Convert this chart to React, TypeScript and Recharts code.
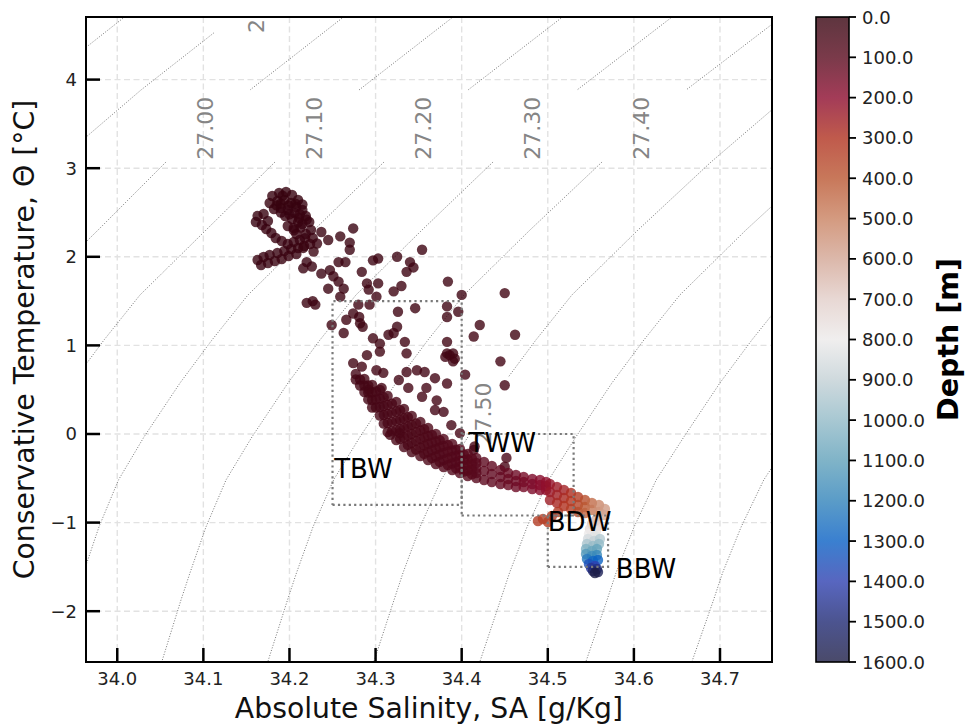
import React from "react";
import { ScatterChart, Scatter, XAxis, YAxis, CartesianGrid } from "recharts";

type Pt = [number, number, number]; // [SA, CT, depth]
type SP = [number, number]; // [SA, CT]

// axes
const salinityTicks = [34.0, 34.1, 34.2, 34.3, 34.4, 34.5, 34.6, 34.7];
const tempTicks = [-2, -1, 0, 1, 2, 3, 4];
const salinityRange: [number, number] = [33.9637, 34.7604];
const tempRange: [number, number] = [-2.5734, 4.7065];

// colorbar (balance, reversed)
const depthTicks = [0, 100, 200, 300, 400, 500, 600, 700, 800, 900, 1000, 1100, 1200, 1300, 1400, 1500, 1600];
const depthColors = [
  "#36030f", "#59091d", "#8c0b2e", "#b0311f", "#ba5631", "#c98160", "#d3a695", "#e2cec9", "#eceaea",
  "#c3d0d5", "#92bac7", "#60a1ba", "#3183ba", "#0960c4", "#2e40b0", "#1f2974", "#1d1d45",
];

// CTD samples
const surfaceCluster: Pt[] = [
  [34.180, 2.686, 2], [34.188, 2.720, 1], [34.196, 2.731, 1], [34.203, 2.698, 2], [34.210, 2.641, 3],
  [34.177, 2.607, 2], [34.186, 2.630, 2], [34.194, 2.641, 2], [34.202, 2.607, 3], [34.208, 2.562, 3],
  [34.182, 2.540, 3], [34.190, 2.551, 3], [34.198, 2.528, 4], [34.206, 2.494, 4], [34.215, 2.528, 4],
  [34.195, 2.460, 4], [34.203, 2.427, 5], [34.211, 2.438, 5], [34.219, 2.460, 5], [34.215, 2.370, 6],
  [34.223, 2.393, 6], [34.198, 2.348, 5], [34.205, 2.325, 6],
  [34.190, 2.600, 3], [34.199, 2.580, 3], [34.207, 2.600, 3], [34.185, 2.580, 3], [34.212, 2.480, 5],
  [34.200, 2.480, 4], [34.190, 2.500, 4], [34.192, 2.690, 2], [34.215, 2.590, 4], [34.220, 2.420, 6],
  [34.210, 2.390, 5], [34.205, 2.300, 6], [34.213, 2.330, 6], [34.218, 2.210, 7],
  [34.163, 2.460, 3], [34.170, 2.483, 3], [34.161, 2.393, 4], [34.168, 2.359, 4], [34.173, 2.314, 5],
  [34.179, 2.269, 5], [34.175, 2.404, 4],
  [34.184, 2.212, 6], [34.191, 2.178, 6], [34.198, 2.144, 7], [34.205, 2.167, 7], [34.212, 2.190, 7],
  [34.219, 2.257, 7], [34.225, 2.302, 7], [34.208, 2.257, 6], [34.217, 2.122, 8], [34.224, 2.144, 8],
  [34.227, 2.212, 8],
  [34.163, 1.964, 6], [34.170, 1.998, 6], [34.177, 2.020, 6], [34.186, 2.043, 7], [34.194, 2.066, 7],
  [34.202, 2.088, 7], [34.210, 2.099, 8], [34.167, 1.907, 7], [34.175, 1.930, 7], [34.183, 1.953, 7],
  [34.191, 1.975, 8], [34.199, 2.009, 8], [34.208, 2.032, 8],
];

const upperScatter: Pt[] = [
  [34.274, 2.32, 12], [34.259, 2.23, 10], [34.245, 2.19, 10], [34.270, 2.16, 14], [34.270, 2.08, 15],
  [34.232, 2.15, 8], [34.237, 2.28, 8], [34.228, 2.06, 10], [34.216, 2.10, 9],
  [34.354, 2.08, 20], [34.325, 2.00, 18], [34.303, 1.98, 16], [34.297, 1.96, 16], [34.340, 1.94, 20],
  [34.344, 1.88, 21], [34.336, 1.83, 21], [34.284, 1.83, 18], [34.265, 1.94, 14], [34.257, 1.94, 14],
  [34.247, 1.85, 15], [34.237, 1.81, 15], [34.251, 1.78, 16], [34.257, 1.72, 17], [34.263, 1.64, 18],
  [34.245, 1.64, 18], [34.259, 1.55, 19], [34.226, 1.89, 12], [34.216, 1.87, 12], [34.220, 1.94, 11],
  [34.292, 1.63, 20], [34.303, 1.70, 20], [34.290, 1.70, 19], [34.321, 1.61, 22], [34.330, 1.67, 22],
  [34.301, 1.55, 22], [34.384, 1.72, 25], [34.450, 1.59, 30], [34.400, 1.57, 27],
  [34.220, 1.48, 18], [34.230, 1.46, 18], [34.227, 1.50, 18], [34.280, 1.46, 22], [34.293, 1.46, 22],
  [34.346, 1.42, 25], [34.326, 1.38, 24], [34.383, 1.44, 27], [34.396, 1.38, 28], [34.274, 1.36, 23],
  [34.266, 1.29, 24], [34.282, 1.25, 25], [34.249, 1.23, 24], [34.263, 1.14, 26], [34.281, 1.32, 24],
  [34.285, 1.21, 25],
  [34.325, 1.21, 27], [34.321, 1.14, 28], [34.315, 1.12, 28], [34.383, 1.32, 29], [34.421, 1.23, 30],
  [34.462, 1.12, 32], [34.414, 1.10, 31], [34.383, 1.04, 31], [34.297, 1.08, 28], [34.305, 1.02, 29],
  [34.334, 1.04, 30],
  [34.383, 0.91, 32], [34.390, 0.91, 32], [34.390, 0.82, 33], [34.336, 0.91, 31], [34.305, 0.93, 30],
  [34.290, 0.89, 30], [34.274, 0.80, 31], [34.284, 0.76, 32], [34.445, 0.82, 35], [34.450, 0.55, 38],
  [34.404, 0.67, 35], [34.383, 0.57, 36], [34.369, 0.63, 35], [34.357, 0.70, 34], [34.348, 0.72, 34],
  [34.336, 0.70, 34], [34.327, 0.61, 35], [34.309, 0.69, 34], [34.301, 0.72, 34], [34.338, 0.52, 37],
  [34.359, 0.52, 37], [34.371, 0.38, 39], [34.354, 0.42, 38], [34.292, 0.50, 37], [34.307, 0.52, 37],
  [34.369, 0.27, 40], [34.379, 0.25, 41], [34.388, 0.10, 43], [34.398, 0.01, 45], [34.415, -0.14, 48],
  [34.452, -0.27, 55], [34.450, -0.37, 58], [34.317, -0.01, 45], [34.328, 0.01, 45], [34.386, 0.89, 33],
  [34.392, 0.85, 33], [34.381, 0.87, 33], [34.414, -0.18, 50],
];

const thermoclineBand: Pt[] = [
  [34.277, 0.677, 40], [34.277, 0.615, 40],
  [34.282, 0.615, 41], [34.282, 0.547, 41],
  [34.287, 0.621, 42], [34.287, 0.547, 42], [34.287, 0.474, 42],
  [34.2915, 0.547, 43], [34.2915, 0.468, 43], [34.2915, 0.390, 43],
  [34.296, 0.553, 45], [34.296, 0.468, 45], [34.296, 0.384, 45], [34.296, 0.299, 45],
  [34.3005, 0.480, 46], [34.3005, 0.390, 46], [34.3005, 0.299, 46],
  [34.305, 0.497, 48], [34.305, 0.401, 48], [34.305, 0.305, 48], [34.305, 0.209, 48],
  [34.3095, 0.414, 49], [34.3095, 0.315, 49], [34.3095, 0.216, 49], [34.3095, 0.117, 49],
  [34.314, 0.429, 50], [34.314, 0.327, 50], [34.314, 0.226, 50], [34.314, 0.124, 50], [34.314, 0.023, 50],
  [34.319, 0.343, 51], [34.319, 0.239, 51], [34.319, 0.134, 51], [34.319, 0.030, 51],
  [34.324, 0.361, 52], [34.324, 0.254, 52], [34.324, 0.147, 52], [34.324, 0.040, 52], [34.324, -0.068, 52],
  [34.3285, 0.268, 53], [34.3285, 0.161, 53], [34.3285, 0.054, 53], [34.3285, -0.054, 53],
  [34.333, 0.282, 55], [34.333, 0.175, 55], [34.333, 0.068, 55], [34.333, -0.040, 55], [34.333, -0.147, 55],
  [34.3375, 0.190, 56], [34.3375, 0.086, 56], [34.3375, -0.018, 56], [34.3375, -0.123, 56],
  [34.342, 0.203, 58], [34.342, 0.102, 58], [34.342, 0.000, 58], [34.342, -0.102, 58], [34.342, -0.203, 58],
  [34.347, 0.120, 60], [34.347, 0.022, 60], [34.347, -0.077, 60], [34.347, -0.176, 60],
  [34.352, 0.135, 62], [34.352, 0.040, 62], [34.352, -0.056, 62], [34.352, -0.152, 62], [34.352, -0.248, 62],
  [34.3565, 0.055, 64], [34.3565, -0.038, 64], [34.3565, -0.131, 64], [34.3565, -0.224, 64],
  [34.361, 0.068, 66], [34.361, -0.023, 66], [34.361, -0.113, 66], [34.361, -0.203, 66], [34.361, -0.293, 66],
  [34.3655, -0.010, 68], [34.3655, -0.098, 68], [34.3655, -0.185, 68], [34.3655, -0.272, 68],
  [34.370, 0.000, 70], [34.370, -0.085, 70], [34.370, -0.169, 70], [34.370, -0.254, 70], [34.370, -0.339, 70],
  [34.3745, -0.069, 72], [34.3745, -0.151, 72], [34.3745, -0.233, 72], [34.3745, -0.315, 72],
  [34.379, -0.056, 75], [34.379, -0.135, 75], [34.379, -0.214, 75], [34.379, -0.293, 75], [34.379, -0.372, 75],
  [34.384, -0.123, 78], [34.384, -0.199, 78], [34.384, -0.275, 78], [34.384, -0.351, 78],
  [34.389, -0.113, 80], [34.389, -0.186, 80], [34.389, -0.260, 80], [34.389, -0.333, 80], [34.389, -0.406, 80],
  [34.3935, -0.176, 83], [34.3935, -0.247, 83], [34.3935, -0.318, 83], [34.3935, -0.388, 83],
  [34.398, -0.169, 86], [34.398, -0.237, 86], [34.398, -0.305, 86], [34.398, -0.372, 86], [34.398, -0.440, 86],
  [34.4025, -0.230, 89], [34.4025, -0.295, 89], [34.4025, -0.360, 89], [34.4025, -0.425, 89],
  [34.407, -0.226, 92], [34.407, -0.288, 92], [34.407, -0.350, 92], [34.407, -0.412, 92], [34.407, -0.474, 92],
  [34.412, -0.278, 95], [34.412, -0.337, 95], [34.412, -0.396, 95], [34.412, -0.456, 95],
  [34.417, -0.271, 98], [34.417, -0.327, 98], [34.417, -0.384, 98], [34.417, -0.440, 98], [34.417, -0.497, 98],
  [34.426, -0.316, 105], [34.426, -0.418, 105], [34.426, -0.519, 105],
  [34.435, -0.361, 112], [34.435, -0.451, 112], [34.435, -0.542, 112],
  [34.445, -0.406, 120], [34.445, -0.485, 120], [34.445, -0.564, 120],
  [34.454, -0.440, 130], [34.454, -0.508, 130], [34.454, -0.576, 130],
  [34.463, -0.463, 140], [34.463, -0.530, 140], [34.463, -0.598, 140],
  [34.472, -0.485, 155], [34.472, -0.542, 155], [34.472, -0.598, 155],
  [34.482, -0.508, 170], [34.482, -0.564, 170], [34.482, -0.621, 170],
  [34.491, -0.519, 190], [34.491, -0.576, 190], [34.491, -0.632, 190],
  [34.498, -0.542, 210], [34.498, -0.587, 210], [34.498, -0.632, 210],
];

const boundaryLayer: Pt[] = [
  [34.5025, -0.564, 220], [34.5025, -0.655, 235], [34.5025, -0.745, 250],
  [34.5107, -0.598, 240], [34.5107, -0.688, 255], [34.5107, -0.779, 275],
  [34.5188, -0.632, 260], [34.5188, -0.722, 280], [34.5188, -0.813, 300],
  [34.5270, -0.666, 290], [34.5270, -0.756, 310], [34.5270, -0.847, 330],
  [34.5351, -0.711, 330], [34.5351, -0.801, 350], [34.5351, -0.880, 370],
  [34.5432, -0.745, 380], [34.5432, -0.824, 400], [34.5432, -0.892, 430],
  [34.5513, -0.779, 450], [34.5513, -0.858, 480],
  [34.5595, -0.801, 520], [34.5595, -0.880, 550],
  [34.5664, -0.847, 570], [34.5653, -0.914, 600],
  [34.4886, -0.982, 330], [34.4944, -0.959, 335], [34.5002, -0.993, 340], [34.5048, -0.926, 330],
  [34.5118, -0.880, 320],
];

const deepColumn: Pt[] = [
  [34.5560, -0.971, 640], [34.5513, -1.016, 680], [34.5583, -1.038, 700], [34.5490, -1.072, 740],
  [34.5560, -1.095, 770], [34.5478, -1.129, 800], [34.5548, -1.151, 830], [34.5467, -1.185, 860],
  [34.5537, -1.208, 900], [34.5606, -1.185, 930], [34.5455, -1.242, 950], [34.5525, -1.264, 990],
  [34.5595, -1.242, 1000], [34.5444, -1.298, 1040], [34.5513, -1.321, 1080], [34.5571, -1.298, 1090],
  [34.5444, -1.354, 1130], [34.5513, -1.377, 1170], [34.5571, -1.366, 1180], [34.5455, -1.411, 1230],
  [34.5525, -1.433, 1280], [34.5583, -1.422, 1290], [34.5478, -1.467, 1350], [34.5548, -1.490, 1400],
  [34.5502, -1.512, 1450], [34.5571, -1.524, 1480], [34.5525, -1.546, 1520], [34.5583, -1.558, 1560],
  [34.5548, -1.569, 1600],
];

// sigma0 isopycnals (label gaps split some lines in two)
const sig2680: SP[] = [[34.0141, 4.75], [33.901, 3.883]];
const sig2690: SP[] = [[34.112, 4.526], [34.0276, 3.883], [33.93, 3.07]];
const sig2700a: SP[] = [[34.2685, 4.75], [34.1542, 3.883]];
const sig2700b: SP[] = [[34.0566, 3.07], [33.9777, 2.302], [33.901, 1.569]];
const sig2710a: SP[] = [[34.3957, 4.75], [34.2808, 3.883]];
const sig2710b: SP[] = [[34.1832, 3.07], [34.1031, 2.302], [34.0264, 1.569], [33.9846, 1.061], [33.9475, 0.576]];
const sig2720a: SP[] = [[34.5229, 4.75], [34.4074, 3.883]];
const sig2720b: SP[] = [
  [34.3098, 3.07], [34.2285, 2.302], [34.1518, 1.569], [34.11, 1.061], [34.0729, 0.576],
  [34.031, -0.034], [34.0014, -0.519], [33.9787, -1.05], [33.9607, -1.569],
];
const sig2730a: SP[] = [[34.6501, 4.75], [34.534, 3.883]];
const sig2730b: SP[] = [
  [34.4364, 3.07], [34.3539, 2.302], [34.2772, 1.569], [34.2354, 1.061], [34.1983, 0.576],
  [34.1564, -0.034], [34.1263, -0.519], [34.103, -1.05], [34.0844, -1.569], [34.074, -1.874], [34.0508, -2.6],
];
const sig2740a: SP[] = [[34.7773, 4.75], [34.6606, 3.883]];
const sig2740b: SP[] = [
  [34.563, 3.07], [34.4793, 2.302], [34.4026, 1.569], [34.3608, 1.061], [34.3237, 0.576],
  [34.2818, -0.034], [34.2512, -0.519], [34.2273, -1.05], [34.2081, -1.569], [34.1977, -1.874], [34.1739, -2.6],
];
const sig2750a: SP[] = [[34.7872, 3.883], [34.6896, 3.07], [34.6047, 2.302], [34.528, 1.569], [34.4862, 1.061], [34.4542, 0.643]];
const sig2750b: SP[] = [[34.4072, -0.034], [34.3761, -0.519], [34.3516, -1.05], [34.3318, -1.569], [34.3214, -1.874], [34.297, -2.6]];
const sig2760: SP[] = [
  [34.8162, 3.07], [34.7301, 2.302], [34.6534, 1.569], [34.6116, 1.061], [34.5745, 0.576],
  [34.5326, -0.034], [34.501, -0.519], [34.4759, -1.05], [34.4555, -1.569], [34.4451, -1.874], [34.4201, -2.6],
];
const sig2770: SP[] = [
  [34.8555, 2.302], [34.7788, 1.569], [34.737, 1.061], [34.6999, 0.576], [34.658, -0.034],
  [34.6259, -0.519], [34.6002, -1.05], [34.5792, -1.569], [34.5688, -1.874], [34.5432, -2.6],
];
const sig2780: SP[] = [
  [34.8624, 1.061], [34.8253, 0.576], [34.7834, -0.034], [34.7508, -0.519], [34.7245, -1.05],
  [34.7029, -1.569], [34.6925, -1.874], [34.6663, -2.6],
];
const isopycnalLines = [
  sig2680, sig2690, sig2700a, sig2700b, sig2710a, sig2710b, sig2720a, sig2720b, sig2730a, sig2730b,
  sig2740a, sig2740b, sig2750a, sig2750b, sig2760, sig2770, sig2780,
];

const contourLabels = [
  { label: "26.90", s: 34.162, t: 4.88 },
  { label: "27.00", s: 34.1022, t: 3.45 },
  { label: "27.10", s: 34.2288, t: 3.45 },
  { label: "27.20", s: 34.3554, t: 3.45 },
  { label: "27.30", s: 34.482, t: 3.45 },
  { label: "27.40", s: 34.6086, t: 3.45 },
  { label: "27.50", s: 34.4251, t: 0.226 },
];

// water mass boxes
const boxSalinity: SP[] = [[34.25, 34.4], [34.4, 34.53], [34.5, 34.57]];
const boxTemperature: SP[] = [[-0.8, 1.5], [-0.92, 0], [-1.5, -0.92]];
const waterMassNames = ["TBW", "TWW", "BDW", "BBW"];
const waterMassAnchors: SP[] = [[34.252, -0.495], [34.408, -0.2], [34.5, -1.095], [34.579, -1.62]];

const FONT = "'DejaVu Sans', sans-serif";
const PLOT = { left: 86, top: 17, right: 772, bottom: 662 };
const CBAR = { x: 816, w: 33 };

const hexRgb = (h: string) => [1, 3, 5].map((i) => parseInt(h.slice(i, i + 2), 16));
const depthColor = (z: number) => {
  const max = depthTicks[depthTicks.length - 1];
  const f = Math.max(0, Math.min(1, z / max)) * (depthColors.length - 1);
  const i = Math.min(Math.floor(f), depthColors.length - 2);
  const a = hexRgb(depthColors[i]);
  const b = hexRgb(depthColors[i + 1]);
  const k = f - i;
  const c = a.map((v, j) => Math.round(v + (b[j] - v) * k));
  return `rgb(${c[0]},${c[1]},${c[2]})`;
};

const samples = [...surfaceCluster, ...upperScatter, ...thermoclineBand, ...boundaryLayer, ...deepColumn]
  .map(([s, t, z]) => ({ s, t, z }))
  .sort((a, b) => a.z - b.z);

const boxes = boxSalinity.map(([s0, s1], i) => {
  const [t0, t1] = boxTemperature[i];
  return [
    { s: s0, t: t0 }, { s: s1, t: t0 }, { s: s1, t: t1 }, { s: s0, t: t1 }, { s: s0, t: t0 },
  ];
});
const massLabels = waterMassNames.map((label, i) => ({ label, s: waterMassAnchors[i][0], t: waterMassAnchors[i][1] }));

const noMark = () => <g />;

const XTick = (p: any) => (
  <g>
    <line x1={p.x} y1={p.y} x2={p.x} y2={p.y - 14} stroke="#000" strokeWidth={2.5} />
    <text x={p.x} y={p.y + 23} textAnchor="middle" fontSize={18} fontFamily={FONT} fill="#222">
      {Number(p.payload.value).toFixed(1)}
    </text>
  </g>
);

const YTick = (p: any) => {
  const v = Number(p.payload.value);
  return (
    <g>
      <line x1={p.x} y1={p.y} x2={p.x + 14} y2={p.y} stroke="#000" strokeWidth={2.5} />
      <text x={p.x - 9} y={p.y} textAnchor="end" dominantBaseline="central" fontSize={18} fontFamily={FONT} fill="#222">
        {v < 0 ? `\u2212${Math.abs(v)}` : String(v)}
      </text>
    </g>
  );
};

export default function App() {
  const plotW = PLOT.right - PLOT.left;
  const plotH = PLOT.bottom - PLOT.top;
  const midY = (PLOT.top + PLOT.bottom) / 2;
  const maxDepth = depthTicks[depthTicks.length - 1];
  return (
    <div style={{ position: "absolute", left: 0, top: 0, width: 965, height: 724, background: "#fff", fontFamily: FONT }}>
      <ScatterChart
        width={965}
        height={724}
        margin={{ top: PLOT.top, right: 965 - PLOT.right, bottom: 724 - PLOT.bottom - 40, left: 0 }}
      >
        <CartesianGrid stroke="#e2e2e2" strokeWidth={1.4} strokeDasharray="6 3.5" />
        <XAxis
          type="number"
          dataKey="s"
          domain={salinityRange}
          ticks={salinityTicks}
          allowDataOverflow
          interval={0}
          height={40}
          tickSize={0}
          tickMargin={0}
          axisLine={false}
          tickLine={false}
          tick={XTick}
        />
        <YAxis
          type="number"
          dataKey="t"
          domain={tempRange}
          ticks={tempTicks}
          allowDataOverflow
          interval={0}
          width={PLOT.left}
          tickSize={0}
          tickMargin={0}
          axisLine={false}
          tickLine={false}
          tick={YTick}
        />
        {isopycnalLines.map((seg, i) => (
          <Scatter
            key={`iso-${i}`}
            data={seg.map(([s, t]) => ({ s, t }))}
            line={{ stroke: "#666", strokeWidth: 0.9, strokeDasharray: "1 1.7" }}
            lineType="joint"
            shape={noMark}
            legendType="none"
            isAnimationActive={false}
          />
        ))}
        <Scatter
          data={contourLabels}
          shape={(p: any) => (
            <text
              x={p.cx}
              y={p.cy}
              transform={`rotate(-90 ${p.cx} ${p.cy})`}
              textAnchor="middle"
              dominantBaseline="central"
              fontSize={22}
              fontFamily={FONT}
              fill="#858585"
            >
              {p.payload.label}
            </text>
          )}
          isAnimationActive={false}
        />
        <Scatter
          data={samples}
          shape={(p: any) => (
            <circle cx={p.cx} cy={p.cy} r={5.2} fill={depthColor(p.payload.z)} fillOpacity={0.8} />
          )}
          isAnimationActive={false}
        />
        {boxes.map((b, i) => (
          <Scatter
            key={`box-${i}`}
            data={b}
            line={{ stroke: "#7a7a7a", strokeWidth: 2.2, strokeDasharray: "2.2 3.2" }}
            lineType="joint"
            shape={noMark}
            isAnimationActive={false}
          />
        ))}
        <Scatter
          data={massLabels}
          shape={(p: any) => (
            <text x={p.cx} y={p.cy} fontSize={26} fontFamily={FONT} fill="#000">
              {p.payload.label}
            </text>
          )}
          isAnimationActive={false}
        />
      </ScatterChart>

      <svg width={965} height={724} style={{ position: "absolute", left: 0, top: 0, pointerEvents: "none" }}>
        <rect x={PLOT.left} y={PLOT.top} width={plotW} height={plotH} fill="none" stroke="#000" strokeWidth={2} />
        <text x={(PLOT.left + PLOT.right) / 2} y={718} textAnchor="middle" fontSize={28.3} fontFamily={FONT} fill="#111">
          Absolute Salinity, SA [g/Kg]
        </text>
        <text
          x={34}
          y={midY}
          transform={`rotate(-90 34 ${midY})`}
          textAnchor="middle"
          fontSize={28.3}
          fontFamily={FONT}
          fill="#111"
        >
          Conservative Temperature, Θ [°C]
        </text>

        <defs>
          <linearGradient id="depthGrad" x1="0" y1="0" x2="0" y2="1">
            {depthTicks.map((d, i) => (
              <stop key={d} offset={d / maxDepth} stopColor={depthColors[i]} stopOpacity={0.8} />
            ))}
          </linearGradient>
        </defs>
        <rect x={CBAR.x} y={PLOT.top} width={CBAR.w} height={plotH} fill="url(#depthGrad)" />
        <rect x={CBAR.x} y={PLOT.top} width={CBAR.w} height={plotH} fill="none" stroke="#000" strokeWidth={1.6} />
        {depthTicks.map((d) => {
          const y = PLOT.top + (d / maxDepth) * plotH;
          return (
            <g key={`cb-${d}`}>
              <line x1={CBAR.x + CBAR.w} y1={y} x2={CBAR.x + CBAR.w + 7} y2={y} stroke="#000" strokeWidth={1.8} />
              <text x={862} y={y} dominantBaseline="central" fontSize={18} fontFamily={FONT} fill="#222">
                {d.toFixed(1)}
              </text>
            </g>
          );
        })}
        <text
          x={958}
          y={midY}
          transform={`rotate(-90 958 ${midY})`}
          textAnchor="middle"
          fontSize={28.5}
          fontWeight="bold"
          fontFamily={FONT}
          fill="#000"
        >
          Depth [m]
        </text>
      </svg>
    </div>
  );
}
